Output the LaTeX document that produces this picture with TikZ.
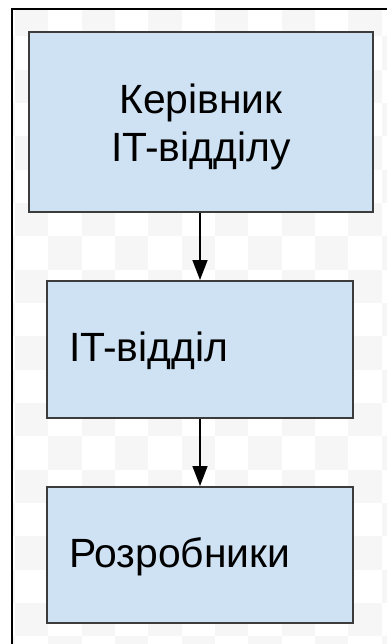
\documentclass[tikz,border=0pt]{standalone}
\usepackage{fontspec}
\setmainfont{Liberation Sans}
\usetikzlibrary{arrows.meta}
\definecolor{boxfill}{HTML}{CFE2F3}
\definecolor{boxline}{HTML}{3C3C3C}
\definecolor{checker}{HTML}{F6F6F6}
\tikzset{
  orgbox/.style={draw=boxline, line width=2bp, fill=boxfill, rectangle,
    font=\fontsize{41}{48}\selectfont, text=black},
  arr/.style={draw=black, line width=1.5bp, -{Triangle[length=20bp,width=15bp]}},
  framerule/.style={draw=black, line width=2.2bp}
}
\begin{document}
\begin{tikzpicture}[x=1bp,y=-1bp]
\useasboundingbox (0,0) rectangle (387,644);
\fill[white] (0,0) rectangle (387,644);
% faint checker background inside the frame
\begin{scope}
  \clip (13,10) rectangle (387,644);
  \foreach \i in {-1,...,11} {
    \foreach \j in {0,...,19} {
      \pgfmathtruncatemacro\myparity{mod(\i+\j+2,2)}
      \ifnum\myparity=0
        \fill[checker] ({15+33.33*\i},{3+33.33*\j}) rectangle ++(33.33,33.33);
      \fi
    }
  }
\end{scope}
% frame (left and top edges)
\coordinate (fbl) at (12,644);
\coordinate (ftl) at (12,9);
\coordinate (ftr) at (387,9);
\draw[framerule] (fbl) -- (ftl) -- (ftr);
% boxes
\node[orgbox, minimum width=344bp, minimum height=180bp, align=center]
  (b1) at (201,122) {\rule{0pt}{39bp}Керівник\\IT-відділу};
\node[orgbox, minimum width=306bp, minimum height=137bp, text width=262bp,
  inner xsep=22bp, align=left] (b2) at (200,349.5) {\rule{0pt}{32bp}IT-відділ};
\node[orgbox, minimum width=306bp, minimum height=136bp, text width=262bp,
  inner xsep=22bp, align=left] (b3) at (200,555) {\rule{0pt}{33bp}Розробники};
% connectors
\draw[arr] (b2.north |- b1.south) -- (b2.north);
\draw[arr] (b2.south) -- (b3.north);
\end{tikzpicture}
\end{document}
